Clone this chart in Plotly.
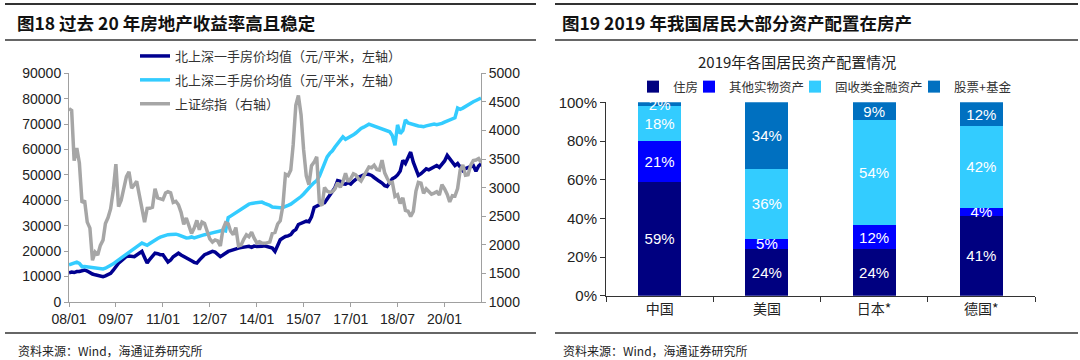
import pandas as pd
import plotly.graph_objects as go

# ---------------- data: left chart (monthly, 2008-01 .. 2021-03) ----------------
months = pd.date_range("2008-01-01", periods=159, freq="MS")

first_hand = [
    11500, 11800, 11600, 12000, 12000, 12300, 12600, 12200, 11500, 11000, 10700, 10500,
    10200, 10000, 10300, 10800, 11300, 12500, 14000, 15300, 16200, 17000, 17900, 18100,
    18000, 17800, 18500, 19200, 19900, 17500, 15300, 16800, 18000, 19200, 19000, 18600,
    18600, 17200, 15700, 16500, 17800, 18500, 19200, 18500, 18000, 17200, 17000, 16200,
    15600, 15300, 16500, 17800, 18600, 19000, 19500, 19900, 19600, 18800, 17900, 18500,
    19400, 19900, 20200, 20600, 20800, 21200, 21400, 21600, 21700, 21900, 21500, 22000,
    21800, 21700, 21900, 22100, 21800, 21500, 21200, 19900, 22500, 24500, 25200, 25800,
    26000, 26500, 27800, 28500, 30500, 31000, 31500, 31800, 31600, 33500, 37200, 37800,
    38200, 38800, 39100, 40500, 42000, 43800, 45000, 47800, 47500, 46500, 46400, 47000,
    46400, 47500, 48300, 49100, 49500, 50000, 50400, 50200, 49800, 49000, 48400, 47500,
    46800, 45800, 45500, 47000, 48500, 49100, 50000, 51500, 55700, 54500, 57000, 59000,
    55000, 52000, 49800, 50500, 51500, 52400, 52000, 52500, 53000, 53700, 53000, 54000,
    55500, 57700, 56500, 55000, 53700, 54500, 53000, 51700, 52500, 53000, 53500, 53700,
    51500, 53500, 54400,
]

second_hand = [
    14600, 15000, 15400, 15700, 15200, 13900, 14000, 13900, 13700, 13500, 13400, 13200,
    13100, 13000, 13300, 13800, 14400, 15000, 15800, 16600, 17400, 18200, 19000, 19800,
    20600, 21200, 21800, 22500, 23200, 22800, 22300, 23000, 23800, 24500, 25000, 25500,
    25900, 26200, 26500, 26600, 26800, 26700, 26400, 26000, 25600, 25200, 25300, 25600,
    25200, 25600, 26000, 26300, 26500, 26700, 26900, 27100, 27300, 27600, 27900, 28200,
    28000, 33200, 33800, 34500, 35200, 35800, 36500, 37200, 37800, 38500, 38800, 39000,
    39100, 39100, 39300, 38800, 38500, 38000, 37400, 37200, 37000, 37100, 37200, 37500,
    38000, 38500, 39200, 39800, 40500, 41500, 42500, 43800, 44800, 46000, 47000, 47800,
    49500, 52000, 55000, 57100, 58500, 59500, 61000, 62500, 64000, 65000, 64000, 64500,
    65000, 65800, 66500, 67500, 68300, 68800, 69500, 70000, 69600, 69200, 68700, 68300,
    68000, 67500, 67200, 67000, 65500, 61700, 69700, 66300, 67500, 71700, 70500, 70200,
    69700, 69500, 69300, 69200, 69000, 69300, 69500, 69800, 70000, 69800, 70000, 70300,
    70800, 71300, 71700, 72000, 72500, 76300, 75800, 76300, 77000, 77600, 78200, 78800,
    79300, 79800, 80300,
]

sse_index = [
    4383, 4349, 3473, 3693, 3433, 2736, 2776, 2397, 2293, 1729, 1871, 1821,
    1991, 2082, 2373, 2477, 2633, 2959, 3412, 2667, 2779, 2996, 3195, 3277,
    2989, 3051, 3110, 2870, 2592, 2398, 2638, 2639, 2656, 2979, 2820, 2808,
    2790, 2905, 2928, 2911, 2743, 2762, 2701, 2568, 2359, 2469, 2333, 2199,
    2292, 2428, 2263, 2397, 2373, 2225, 2103, 2047, 2086, 2069, 1980, 2269,
    2385, 2366, 2237, 2178, 2301, 1979, 1994, 2098, 2175, 2141, 2220, 2116,
    2033, 2056, 2033, 2026, 2039, 2048, 2202, 2217, 2364, 2420, 2683, 3235,
    3210, 3310, 3748, 4441, 4612, 4277, 3664, 3206, 3053, 3383, 3446, 3539,
    2738, 2688, 3004, 2938, 2917, 2930, 2979, 3085, 3005, 3100, 3250, 3104,
    3159, 3242, 3223, 3155, 3117, 3192, 3273, 3361, 3349, 3393, 3317, 3307,
    3481, 3259, 3169, 3082, 3095, 2847, 2876, 2725, 2821, 2603, 2588, 2494,
    2585, 2941, 3091, 3078, 2899, 2979, 2933, 2886, 2905, 2929, 2872, 3050,
    2977, 2880, 2750, 2860, 2852, 2985, 3310, 3396, 3218, 3225, 3392, 3473,
    3483, 3509, 3441,
]

x_tick_dates = ["2008-01-01", "2009-07-01", "2011-01-01", "2012-07-01", "2014-01-01",
                "2015-07-01", "2017-01-01", "2018-07-01", "2020-01-01"]
x_tick_labels = ["08/01", "09/07", "11/01", "12/07", "14/01", "15/07", "17/01", "18/07", "20/01"]

# ---------------- data: right chart ----------------
countries = ["中国", "美国", "日本*", "德国*"]
housing = [59, 24, 24, 41]
other_real = [21, 5, 12, 4]
fixed_income = [18, 36, 54, 42]
stocks_funds = [2, 34, 9, 12]
pct_ticks = [0, 20, 40, 60, 80, 100]
pct_labels = ["0%", "20%", "40%", "60%", "80%", "100%"]

CJK = "Noto Sans CJK SC"
LAT = "Liberation Sans, Arial"

fig = go.Figure()

# left chart lines
fig.add_trace(go.Scatter(x=months, y=first_hand, mode="lines",
                         name="北上深一手房价均值（元/平米，左轴）",
                         line=dict(color="#000090", width=3.5),
                         xaxis="x", yaxis="y", legend="legend", legendgroup="a"))
fig.add_trace(go.Scatter(x=months, y=second_hand, mode="lines",
                         name="北上深二手房价均值（元/平米，左轴）",
                         line=dict(color="#33CCFF", width=3.5),
                         xaxis="x", yaxis="y", legend="legend", legendgroup="b"))
fig.add_trace(go.Scatter(x=months, y=sse_index, mode="lines",
                         name="上证综指（右轴）",
                         line=dict(color="#A6A6A6", width=3.5),
                         xaxis="x", yaxis="y2", legend="legend", legendgroup="c"))

# right chart bars (each in its own one-item legend so they can sit close together)
bar_series = [
    ("住房", housing, "#000080", "legend2"),
    ("其他实物资产", other_real, "#0000FF", "legend3"),
    ("固收类金融资产", fixed_income, "#33CCFF", "legend4"),
    ("股票+基金", stocks_funds, "#0070C0", "legend5"),
]
for name, vals, col, lg in bar_series:
    fig.add_trace(go.Bar(x=countries, y=vals, name=name,
                         marker=dict(color=col, line=dict(width=0)),
                         text=[f"{v}%" for v in vals],
                         textposition="inside", insidetextanchor="middle",
                         textangle=0, constraintext="none", cliponaxis=False,
                         textfont=dict(color="white", size=15, family=LAT),
                         xaxis="x2", yaxis="y3", legend=lg))

axis_gray = "#A0A0A0"
small_legend = dict(xanchor="left", yanchor="middle", y=1 - 87 / 360,
                    bgcolor="rgba(0,0,0,0)", borderwidth=0,
                    font=dict(size=12.5, family=CJK, color="#333"))
fig.update_layout(
    width=1080, height=360,
    margin=dict(l=0, r=0, t=0, b=0, pad=0, autoexpand=False),
    paper_bgcolor="white", plot_bgcolor="white",
    barmode="stack", barnorm="percent", bargap=0.6,
    font=dict(family=LAT, color="#222222"),
    xaxis=dict(domain=[69 / 1080, 481 / 1080], anchor="y", type="date",
               range=["2008-01-01", "2021-03-01"],
               tickvals=x_tick_dates, ticktext=x_tick_labels,
               showgrid=False, zeroline=False, showline=True, linecolor=axis_gray,
               ticks="outside", ticklen=4, tickcolor=axis_gray,
               tickfont=dict(size=14, family=LAT, color="#222")),
    yaxis=dict(domain=[(360 - 302) / 360, (360 - 73.3) / 360], anchor="x",
               range=[0, 90000], dtick=10000, tickformat="d",
               showgrid=False, zeroline=False, showline=True, linecolor=axis_gray,
               ticks="outside", ticklen=4, tickcolor=axis_gray,
               tickfont=dict(size=14, family=LAT, color="#222")),
    yaxis2=dict(overlaying="y", side="right", anchor="x",
                range=[1000, 5000], dtick=500, tickformat="d",
                showgrid=False, zeroline=False, showline=True, linecolor=axis_gray,
                ticks="outside", ticklen=4, tickcolor=axis_gray,
                tickfont=dict(size=14, family=LAT, color="#222")),
    xaxis2=dict(domain=[606 / 1080, 1035 / 1080], anchor="y3", type="category",
                showgrid=False, zeroline=False, showline=True, linecolor="#333",
                ticks="outside", ticklen=5, tickcolor="#333", tickson="boundaries",
                tickfont=dict(size=14, family=CJK, color="#222")),
    yaxis3=dict(domain=[(360 - 295.7) / 360, (360 - 102.3) / 360], anchor="x2",
                range=[0, 100.02], tickvals=pct_ticks, ticktext=pct_labels,
                showgrid=False, zeroline=False, showline=True, linecolor="#333",
                ticks="outside", ticklen=5, tickcolor="#333",
                tickfont=dict(size=15, family=LAT, color="#222")),
    legend=dict(x=135 / 1080, y=1 - 41 / 360, xanchor="left", yanchor="top",
                bgcolor="rgba(0,0,0,0)", tracegroupgap=4,
                font=dict(size=13, family=CJK, color="#333")),
    legend2=dict(x=633 / 1080, **small_legend),
    legend3=dict(x=689 / 1080, **small_legend),
    legend4=dict(x=795 / 1080, **small_legend),
    legend5=dict(x=914 / 1080, **small_legend),
    showlegend=True,
)

anns = []
for text, ax, ay in (("<b>图18 过去 20 年房地产收益率高且稳定</b>", 15, 22),
                     ("<b>图19 2019 年我国居民大部分资产配置在房产</b>", 560, 22)):
    anns.append(dict(text=text, x=ax / 1080, y=1 - ay / 360,
                     xref="paper", yref="paper", xanchor="left", yanchor="middle",
                     showarrow=False, font=dict(size=17.5, family=CJK, color="#111")))
anns.append(dict(text="2019年各国居民资产配置情况", x=797 / 1080, y=1 - 61 / 360,
                 xref="paper", yref="paper", xanchor="center", yanchor="middle",
                 showarrow=False, font=dict(size=15, family=CJK, color="#222")))
for fx in (16, 561):
    anns.append(dict(text="资料来源：Wind，海通证券研究所", x=fx / 1080, y=1 - 350 / 360,
                     xref="paper", yref="paper", xanchor="left", yanchor="middle",
                     showarrow=False, font=dict(size=12, family=CJK, color="#222")))
fig.update_layout(annotations=anns)

shapes = []
for (x0, x1) in ((5, 536), (555, 1078)):
    for yy, w in ((4, 2), (40, 1.5), (333, 1.5)):
        shapes.append(dict(type="line", xref="paper", yref="paper",
                           x0=x0 / 1080, x1=x1 / 1080, y0=1 - yy / 360, y1=1 - yy / 360,
                           line=dict(color="#333", width=w)))
fig.update_layout(shapes=shapes)

fig.write_html("out.html", config={"displayModeBar": False},
               post_script="document.body.style.margin='0';document.body.style.overflow='hidden';")
